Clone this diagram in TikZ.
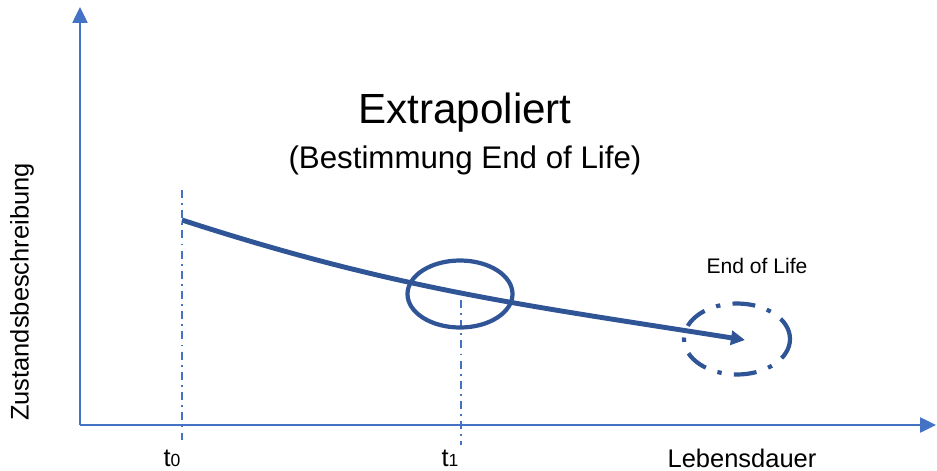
\documentclass[tikz,border=0pt]{standalone}
\usepackage{fontspec}
\setmainfont{Liberation Sans}
\usetikzlibrary{positioning, arrows.meta, calc, shapes.geometric}
\definecolor{axisblue}{HTML}{4472C4}
\definecolor{curveblue}{HTML}{2F5597}

\begin{document}
\begin{tikzpicture}[
    axis/.style={-{Triangle[length=9pt, width=8.5pt]}, line width=1.2pt, axisblue},
    marker/.style={axisblue, line width=1pt, dash pattern=on 4.5pt off 3pt on 1pt off 3pt},
    trend/.style={-{Triangle[length=8pt, width=8pt]}, line width=2.8pt, curveblue},
    ring/.style={ellipse, draw=curveblue, line width=2.4pt, inner sep=0pt},
    label/.style={inner sep=0pt, font=\fontsize{14.5}{17}\selectfont}
]
\useasboundingbox (0,0) rectangle (18.74,9.4);

% Achsen
\coordinate (origin) at (1.6,0.9);
\coordinate (ytop) at (1.6,9.26);
\coordinate (xend) at (18.72,0.9);
\draw[axis] (origin) -- (ytop);
\draw[axis] (origin) -- (xend);

\node[label, rotate=90] (ylab) at (0.44,3.56) {Zustandsbeschreibung};
\node[label] (xlab) at (14.84,0.24) {Lebensdauer};

% Titel
\node[inner sep=0pt, font=\fontsize{24}{28}\selectfont] (title) at (9.3,7.14) {Extrapoliert};
\node[inner sep=0pt, font=\fontsize{17.8}{21}\selectfont] (subtitle) at (9.3,6.2) {(Bestimmung End of Life)};

% Zeitpunkte
\coordinate (t0top) at (3.64,5.6);
\coordinate (t0bot) at (3.64,0.6);
\coordinate (t1top) at (9.22,3.4);
\coordinate (t1bot) at (9.22,0.5);
\draw[marker] (t0top) -- (t0bot);
\draw[marker] (t1top) -- (t1bot);
\node[label] (t0) at (3.44,0.24) {t{\fontsize{10}{12}\selectfont 0}};
\node[label] (t1) at (9.0,0.24) {t{\fontsize{10}{12}\selectfont 1}};

% Verlauf
\coordinate (start) at (3.64,5.0);
\coordinate (stop) at (14.9,2.6);
\draw[trend] (start) to[out=-18, in=171] (stop);

\node[ring, minimum width=2.1cm, minimum height=1.34cm] (now) at (9.2,3.52) {};
\node[ring, minimum width=2.12cm, minimum height=1.42cm,
      dash pattern=on 13pt off 7pt on 2.5pt off 7pt] (eol) at (14.74,2.62) {};
\node[inner sep=0pt, font=\fontsize{12}{14}\selectfont] (eollab) at (15.14,4.08) {End of Life};

\end{tikzpicture}
\end{document}
